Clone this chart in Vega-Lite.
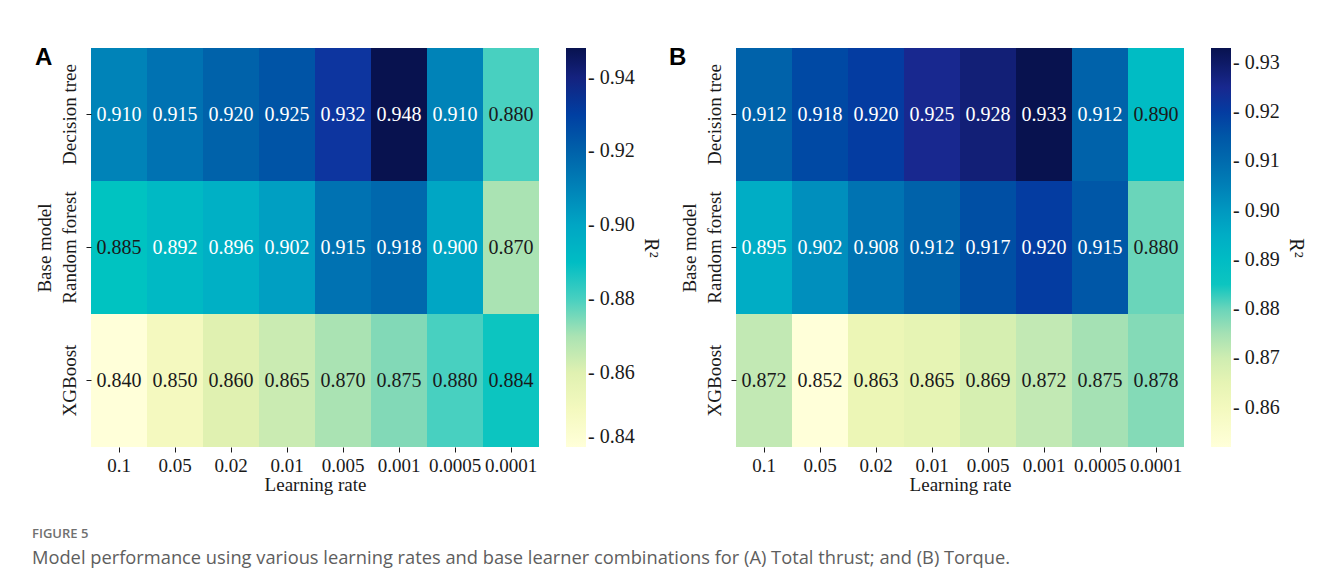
{
  "$schema": "https://vega.github.io/schema/vega-lite/v6.json",
  "background": "white",
  "padding": {"left": 31, "top": 46, "right": 5, "bottom": 14},
  "config": {
    "font": "Liberation Serif",
    "view": {"stroke": null},
    "axis": {
      "labelFont": "Liberation Serif", "labelFontSize": 19, "labelColor": "#1a1a1a",
      "titleFont": "Liberation Serif", "titleFontSize": 19, "titleFontWeight": "normal", "titleColor": "#1a1a1a",
      "domain": false, "ticks": true, "tickColor": "#1a1a1a", "tickSize": 5, "grid": false
    },
    "legend": {
      "labelFont": "Liberation Serif", "labelFontSize": 20, "labelColor": "#1a1a1a",
      "titleFont": "Liberation Serif", "titleFontSize": 20, "titleFontWeight": "normal", "titleColor": "#1a1a1a",
      "gradientLength": 399, "gradientThickness": 20, "gradientStrokeWidth": 0,
      "titleOrient": "right", "titleAngle": 270, "titleAnchor": "middle", "titlePadding": 6,
      "labelOffset": 0, "labelOverlap": false, "offset": 27, "direction": "vertical"
    }
  },
  "datasets": {
    "a": [
      {"model": "Decision tree", "lr": "0.1", "r2": 0.910},
      {"model": "Decision tree", "lr": "0.05", "r2": 0.915},
      {"model": "Decision tree", "lr": "0.02", "r2": 0.920},
      {"model": "Decision tree", "lr": "0.01", "r2": 0.925},
      {"model": "Decision tree", "lr": "0.005", "r2": 0.932},
      {"model": "Decision tree", "lr": "0.001", "r2": 0.948},
      {"model": "Decision tree", "lr": "0.0005", "r2": 0.910},
      {"model": "Decision tree", "lr": "0.0001", "r2": 0.880},
      {"model": "Random forest", "lr": "0.1", "r2": 0.885},
      {"model": "Random forest", "lr": "0.05", "r2": 0.892},
      {"model": "Random forest", "lr": "0.02", "r2": 0.896},
      {"model": "Random forest", "lr": "0.01", "r2": 0.902},
      {"model": "Random forest", "lr": "0.005", "r2": 0.915},
      {"model": "Random forest", "lr": "0.001", "r2": 0.918},
      {"model": "Random forest", "lr": "0.0005", "r2": 0.900},
      {"model": "Random forest", "lr": "0.0001", "r2": 0.870},
      {"model": "XGBoost", "lr": "0.1", "r2": 0.840},
      {"model": "XGBoost", "lr": "0.05", "r2": 0.850},
      {"model": "XGBoost", "lr": "0.02", "r2": 0.860},
      {"model": "XGBoost", "lr": "0.01", "r2": 0.865},
      {"model": "XGBoost", "lr": "0.005", "r2": 0.870},
      {"model": "XGBoost", "lr": "0.001", "r2": 0.875},
      {"model": "XGBoost", "lr": "0.0005", "r2": 0.880},
      {"model": "XGBoost", "lr": "0.0001", "r2": 0.884}
    ],
    "b": [
      {"model": "Decision tree", "lr": "0.1", "r2": 0.912},
      {"model": "Decision tree", "lr": "0.05", "r2": 0.918},
      {"model": "Decision tree", "lr": "0.02", "r2": 0.920},
      {"model": "Decision tree", "lr": "0.01", "r2": 0.925},
      {"model": "Decision tree", "lr": "0.005", "r2": 0.928},
      {"model": "Decision tree", "lr": "0.001", "r2": 0.933},
      {"model": "Decision tree", "lr": "0.0005", "r2": 0.912},
      {"model": "Decision tree", "lr": "0.0001", "r2": 0.890},
      {"model": "Random forest", "lr": "0.1", "r2": 0.895},
      {"model": "Random forest", "lr": "0.05", "r2": 0.902},
      {"model": "Random forest", "lr": "0.02", "r2": 0.908},
      {"model": "Random forest", "lr": "0.01", "r2": 0.912},
      {"model": "Random forest", "lr": "0.005", "r2": 0.917},
      {"model": "Random forest", "lr": "0.001", "r2": 0.920},
      {"model": "Random forest", "lr": "0.0005", "r2": 0.915},
      {"model": "Random forest", "lr": "0.0001", "r2": 0.880},
      {"model": "XGBoost", "lr": "0.1", "r2": 0.872},
      {"model": "XGBoost", "lr": "0.05", "r2": 0.852},
      {"model": "XGBoost", "lr": "0.02", "r2": 0.863},
      {"model": "XGBoost", "lr": "0.01", "r2": 0.865},
      {"model": "XGBoost", "lr": "0.005", "r2": 0.869},
      {"model": "XGBoost", "lr": "0.001", "r2": 0.872},
      {"model": "XGBoost", "lr": "0.0005", "r2": 0.875},
      {"model": "XGBoost", "lr": "0.0001", "r2": 0.878}
    ]
  },
  "title": {
    "text": "FIGURE 5",
    "subtitle": "Model performance using various learning rates and base learner combinations for (A) Total thrust; and (B) Torque.",
    "orient": "bottom", "anchor": "start", "frame": "bounds",
    "font": "Open Sans", "fontSize": 13, "fontWeight": 600, "color": "#707070",
    "subtitleFont": "Open Sans", "subtitleFontSize": 18.3, "subtitleColor": "#5e5e5e",
    "offset": 34, "subtitlePadding": 9, "dx": -3
  },
  "spacing": 8,
  "resolve": {"scale": {"color": "independent"}},
  "hconcat": [
    {
      "title": {"text": "A", "anchor": "start", "frame": "bounds", "font": "Liberation Sans", "fontSize": 24, "fontWeight": "bold", "color": "#000000", "baseline": "top", "offset": 0, "dy": 22},
      "width": 448, "height": 399,
      "data": {"name": "a"},
      "encoding": {
        "x": {"field": "lr", "type": "ordinal", "sort": ["0.1", "0.05", "0.02", "0.01", "0.005", "0.001", "0.0005", "0.0001"], "title": "Learning rate",
              "scale": {"paddingInner": 0, "paddingOuter": 0}, "axis": {"labelAngle": 0, "labelPadding": 4, "titlePadding": 0}},
        "y": {"field": "model", "type": "ordinal", "sort": ["Decision tree", "Random forest", "XGBoost"], "title": "Base model",
              "scale": {"paddingInner": 0, "paddingOuter": 0},
              "axis": {"labelAngle": -90, "labelAlign": "center", "labelBaseline": "bottom", "labelPadding": 7, "titlePadding": 6}}
      },
      "layer": [
        {"mark": {"type": "rect"},
         "encoding": {"color": {"field": "r2", "type": "quantitative",
            "scale": {"domain": [0.84, 0.85296, 0.8616, 0.867, 0.87132, 0.87564, 0.87996, 0.88428, 0.89076, 0.8994, 0.9102, 0.91992, 0.9264, 0.9318, 0.9372, 0.948],
                      "range": ["#ffffd9", "#f0f8b8", "#dcf0b0", "#c0e8b4", "#a0e0b4", "#7cd8b8", "#48d0c0", "#00c4c0", "#00bcc4", "#00a8c4", "#0082b8", "#0062aa", "#0050a4", "#0c36a0", "#182890", "#08124f"]},
            "legend": {"title": "R²", "values": [0.84, 0.86, 0.88, 0.90, 0.92, 0.94], "format": ".2f", "labelExpr": "'- ' + format(datum.value, '.2f')"}}}},
        {"mark": {"type": "text", "fontSize": 20, "font": "Liberation Serif"},
         "encoding": {"text": {"field": "r2", "type": "quantitative", "format": ".3f"},
            "color": {"condition": {"test": "datum.r2 >= 0.89", "value": "#ffffff"}, "value": "#1a1a1a"}}}
      ]
    },
    {
      "title": {"text": "B", "anchor": "start", "frame": "bounds", "font": "Liberation Sans", "fontSize": 24, "fontWeight": "bold", "color": "#000000", "baseline": "top", "offset": 0, "dy": 22, "dx": -11},
      "width": 448, "height": 399,
      "data": {"name": "b"},
      "encoding": {
        "x": {"field": "lr", "type": "ordinal", "sort": ["0.1", "0.05", "0.02", "0.01", "0.005", "0.001", "0.0005", "0.0001"], "title": "Learning rate",
              "scale": {"paddingInner": 0, "paddingOuter": 0}, "axis": {"labelAngle": 0, "labelPadding": 4, "titlePadding": 0}},
        "y": {"field": "model", "type": "ordinal", "sort": ["Decision tree", "Random forest", "XGBoost"], "title": "Base model",
              "scale": {"paddingInner": 0, "paddingOuter": 0},
              "axis": {"labelAngle": -90, "labelAlign": "center", "labelBaseline": "bottom", "labelPadding": 7, "titlePadding": 6}}
      },
      "layer": [
        {"mark": {"type": "rect"},
         "encoding": {"color": {"field": "r2", "type": "quantitative",
            "scale": {"domain": [0.852, 0.86172, 0.8682, 0.87225, 0.87549, 0.87873, 0.88197, 0.88521, 0.89007, 0.89655, 0.90465, 0.91194, 0.9168, 0.92085, 0.9249, 0.933],
                      "range": ["#ffffd9", "#f0f8b8", "#dcf0b0", "#c0e8b4", "#a0e0b4", "#7cd8b8", "#48d0c0", "#00c4c0", "#00bcc4", "#00a8c4", "#0082b8", "#0062aa", "#0050a4", "#0c36a0", "#182890", "#08124f"]},
            "legend": {"title": "R²", "values": [0.86, 0.87, 0.88, 0.89, 0.90, 0.91, 0.92, 0.93], "format": ".2f", "labelExpr": "'- ' + format(datum.value, '.2f')"}}}},
        {"mark": {"type": "text", "fontSize": 20, "font": "Liberation Serif"},
         "encoding": {"text": {"field": "r2", "type": "quantitative", "format": ".3f"},
            "color": {"condition": {"test": "datum.r2 >= 0.892", "value": "#ffffff"}, "value": "#1a1a1a"}}}
      ]
    }
  ]
}
